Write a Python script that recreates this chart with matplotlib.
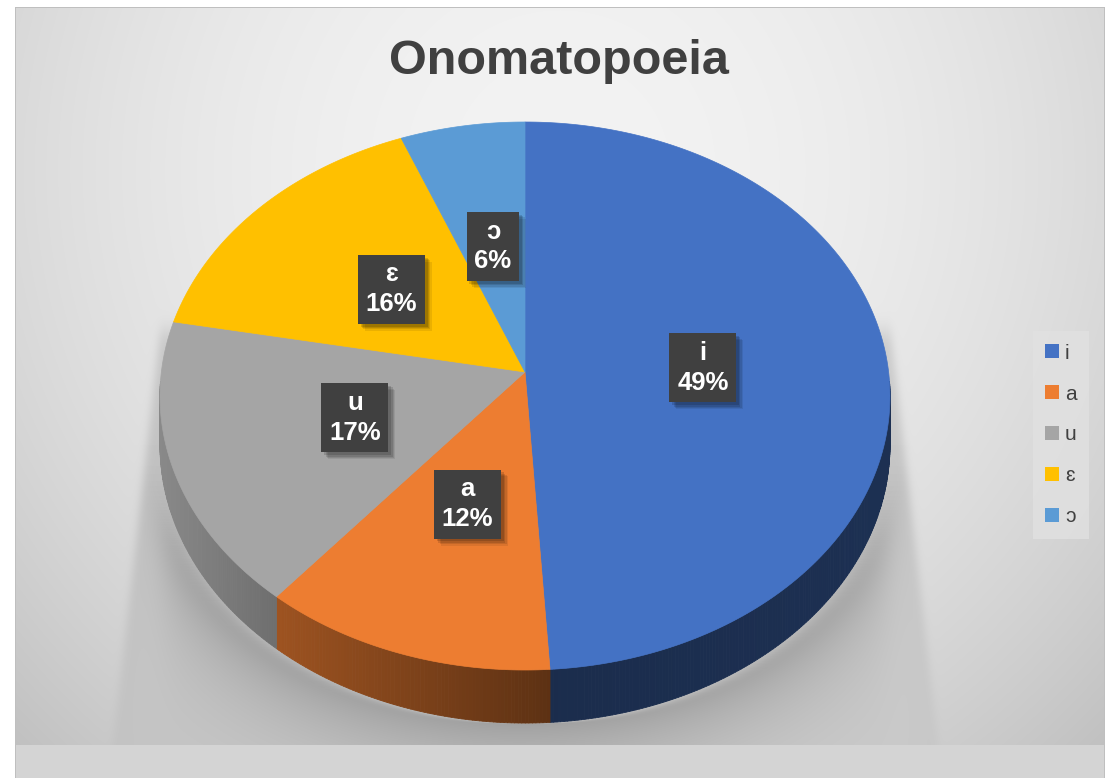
import numpy as np
import matplotlib.pyplot as plt
from matplotlib.patches import Polygon, Patch
from matplotlib.collections import PolyCollection
from matplotlib.colors import to_rgb
import matplotlib.patheffects as pe

plt.rcParams['font.family'] = ['Liberation Sans', 'DejaVu Sans']

# data
labels = ['i', 'a', 'u', 'ɛ', 'ɔ']
values = [49, 12, 17, 16, 6]
colors = ['#4472C4', '#ED7D31', '#A5A5A5', '#FFC000', '#5B9BD5']
title = 'Onomatopoeia'

W, H = 1116, 778
# pie geometry (pixels), perspective tilt
CX, CY = 525, 372
R, S, P = 363.6, 271.9, 0.0876
DROP = 48.4


def proj(t, r=1.0, drop=0.0):
    u = r * np.cos(t)
    v = r * np.sin(t)
    w = 1 + P * v
    return CX + R * u / w, CY - S * v / w + drop / w


def blur(a, s, axis):
    k = np.exp(-0.5 * (np.arange(-3 * s, 3 * s + 1) / s) ** 2)
    k /= k.sum()
    return np.apply_along_axis(lambda m: np.convolve(m, k, mode='same'), axis, a)


# ---- background with shadow ----
yy, xx = np.mgrid[0:H, 0:W].astype(float)
r2 = ((xx - 560) / 620) ** 2 + ((yy - 170) / 640) ** 2
bg = 243 - 32 * r2

# cast shadow beside / below the pie, fading downwards
L = 160 - (yy - 330) * 0.115
Rr = 890 + (yy - 330) * 0.115
M = ((yy > 330) & (xx > L) & (xx < Rr)).astype(float)
M = blur(M, 4, 1)
M = blur(M, 10, 0)
M *= np.clip(1.2 - (yy - 420) / 330.0, 0, 1)

# contact shadow hugging the front rim
trim = np.radians(np.linspace(-178, -2, 400))
bx, by = proj(trim, drop=DROP)
order = np.argsort(bx)
ybot = np.interp(xx[0], bx[order], by[order], left=np.nan, right=np.nan)
C = np.zeros((H, W))
for j in range(W):
    if np.isnan(ybot[j]):
        continue
    d = yy[:, j] - ybot[j]
    C[:, j] = np.where(d > 0, np.exp(-d / 70.0), 0)
C = blur(C, 12, 1)

bg = bg - 28 * M - 50 * C
bg[yy >= 745] = 212
bg = np.clip(bg, 0, 255) / 255.0
img = np.dstack([bg, bg, bg])
outside = (xx < 15) | (xx > 1104) | (yy < 7)
img[outside] = 1.0
border = ((xx == 15) | (xx == 1104)) & (yy >= 7) | ((yy == 7) & (xx >= 15) & (xx <= 1104))
img[border] = 0.75

fig = plt.figure(figsize=(W / 100, H / 100), dpi=100)
ax = fig.add_axes([0, 0, 1, 1])
ax.imshow(img, extent=(0, W, H, 0), aspect='auto', interpolation='bilinear', zorder=0)
ax.set_xlim(0, W)
ax.set_ylim(H, 0)
ax.axis('off')

# ---- pie ----
total = float(sum(values))
cum = np.concatenate([[0], np.cumsum(values)]) / total
t_start = np.radians(90 - 360 * cum[:-1])
t_end = np.radians(90 - 360 * cum[1:])

vis_lo, vis_hi = np.radians(-178), np.radians(-2)


def side_fac(x):
    return np.interp(x, [160, 290, 553, 890], [0.83, 0.65, 0.39, 0.42])


quads, qcols = [], []
for k in range(len(values)):
    a0, a1 = max(t_end[k], vis_lo), min(t_start[k], vis_hi)
    if a1 <= a0:
        continue
    ts = np.linspace(a1, a0, max(3, int(np.degrees(a1 - a0) * 2)))
    base = np.array(to_rgb(colors[k]))
    for t1, t2 in zip(ts[:-1], ts[1:]):
        x1, y1 = proj(t1)
        x2, y2 = proj(t2)
        x3, y3 = proj(t2, drop=DROP)
        x4, y4 = proj(t1, drop=DROP)
        quads.append([(x1, y1), (x2, y2), (x3, y3), (x4, y4)])
        qcols.append(np.clip(base * side_fac((x1 + x2) / 2), 0, 1))
pc = PolyCollection(quads, facecolors=qcols, edgecolors=qcols, linewidths=0.6, zorder=2)
ax.add_collection(pc)

for k in range(len(values)):
    ts = np.linspace(t_start[k], t_end[k], 200)
    px, py = proj(ts)
    pts = [(CX, CY)] + list(zip(px, py))
    ax.add_patch(Polygon(pts, closed=True, facecolor=colors[k], edgecolor=colors[k],
                         linewidth=0.5, zorder=3))

# ---- data labels ----
for k in range(len(values)):
    tm = (t_start[k] + t_end[k]) / 2
    lx, ly = proj(tm, r=0.49)
    pct = round(100 * values[k] / total)
    txt = ax.text(lx, ly, f'{labels[k]}\n{pct}%', ha='center', va='center',
                  fontsize=18.5, fontweight='bold', color='white', linespacing=1.3,
                  zorder=5,
                  bbox=dict(boxstyle='square,pad=0.3', facecolor='#404040', edgecolor='none'))
    txt.get_bbox_patch().set_path_effects([
        pe.SimplePatchShadow(offset=(5, -5), shadow_rgbFace='black', alpha=0.08),
        pe.SimplePatchShadow(offset=(4, -4), shadow_rgbFace='black', alpha=0.1),
        pe.SimplePatchShadow(offset=(3, -3), shadow_rgbFace='black', alpha=0.12),
        pe.SimplePatchShadow(offset=(2, -2), shadow_rgbFace='black', alpha=0.14),
        pe.Normal()])

# ---- title ----
ax.text(559, 74, title, ha='center', va='baseline', fontsize=35, fontweight='bold',
        color='#404040', zorder=5)

# ---- legend ----
handles = [Patch(facecolor=c, edgecolor='none') for c in colors]
leg = ax.legend(handles, labels, loc='center', bbox_to_anchor=(1061 / W, 1 - 435 / H),
                frameon=True, fontsize=15, labelspacing=1.05, handlelength=0.65,
                handleheight=0.65, handletextpad=0.3, borderpad=0.6, fancybox=False)
leg.get_frame().set_facecolor('#e1e1e1')
leg.get_frame().set_edgecolor('none')
for t in leg.get_texts():
    t.set_color('#404040')

fig.savefig('out.png', dpi=100)
